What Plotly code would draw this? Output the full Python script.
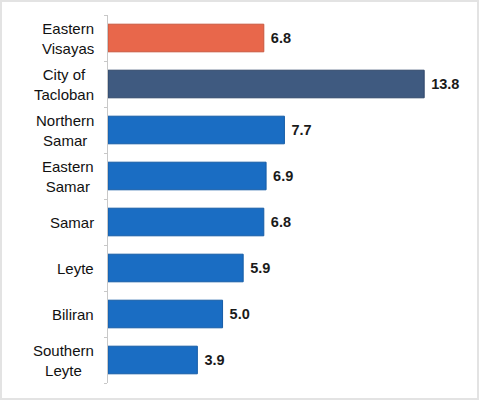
import plotly.graph_objects as go

# data, top to bottom
regions = ["Eastern<br>Visayas", "City of<br>Tacloban", "Northern<br>Samar", "Eastern<br>Samar",
           "Samar", "Leyte", "Biliran", "Southern<br>Leyte"]
values = [6.8, 13.8, 7.7, 6.9, 6.8, 5.9, 5.0, 3.9]
bar_colors = ["#E8674B", "#3F5A80"] + ["#1A6DC3"] * 6
edge_colors = ["#C9563D", "#2E4668"] + ["#155CA6"] * 6

fig = go.Figure()
fig.add_trace(go.Bar(
    x=values,
    y=regions,
    orientation="h",
    marker=dict(color=bar_colors, line=dict(color=edge_colors, width=1)),
    width=0.6,
    text=["\u00a0" + f"{v:.1f}" for v in values],
    textposition="outside",
    textfont=dict(family="Liberation Sans, Arial", size=14.5, color="#1a1a1a", weight="bold"),
    cliponaxis=False,
))

# category labels, each line centred within its block
for r in regions:
    fig.add_annotation(
        x=0, xref="paper", y=r, yref="y",
        text=r, showarrow=False,
        xanchor="right", xshift=-12, align="center",
        font=dict(family="Liberation Sans, Arial", size=15, color="#111111"),
    )

fig.update_layout(
    width=480, height=401,
    margin=dict(l=108, r=10, t=15, b=18),
    plot_bgcolor="white",
    paper_bgcolor="white",
    showlegend=False,
    # light frame around the whole picture
    shapes=[dict(type="rect", xref="paper", yref="paper",
                 x0=-0.2956, x1=1.0221, y0=-0.0435, y1=1.038,
                 line=dict(color="#E3E3E3", width=2))],
)
fig.update_xaxes(range=[0, 15.8], visible=False)
fig.update_yaxes(
    categoryorder="array", categoryarray=regions[::-1],
    showticklabels=False, showline=True, linecolor="#C8C8C8", linewidth=1,
    ticks="outside", ticklen=3, tickcolor="#C8C8C8", tickson="boundaries",
    showgrid=False, automargin=False,
)

fig.write_html("out.html", config={"displayModeBar": False},
               post_script="document.body.style.margin='0';")
